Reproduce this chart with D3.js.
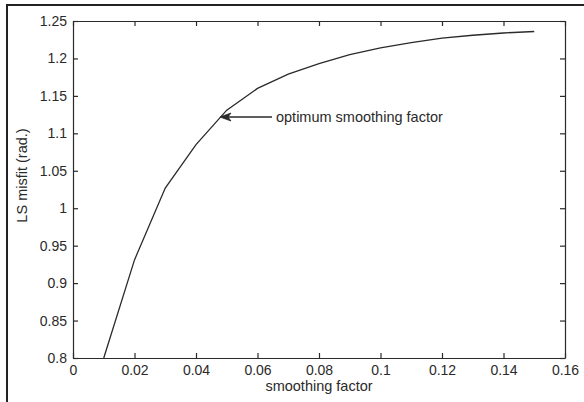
<!DOCTYPE html>
<html>
<head>
<meta charset="utf-8">
<script src="https://cdn.jsdelivr.net/npm/d3@7"></script>
<style>
  html, body { margin: 0; padding: 0; background: #fff; }
  svg { display: block; }
  text { font-family: "Liberation Sans", Arial, sans-serif; fill: #2a2a2a; }
</style>
</head>
<body>
<svg id="chart" width="584" height="402"></svg>
<script>
// Data
const smoothingFactor = [0.01, 0.02, 0.03, 0.04, 0.05, 0.06, 0.07, 0.08, 0.09, 0.10, 0.11, 0.12, 0.13, 0.14, 0.15];
const lsMisfit       = [0.800, 0.931, 1.027, 1.085, 1.131, 1.160, 1.179, 1.193, 1.205, 1.214, 1.221, 1.227, 1.231, 1.234, 1.236];
const xTicks = [0, 0.02, 0.04, 0.06, 0.08, 0.1, 0.12, 0.14, 0.16];
const yTicks = [0.8, 0.85, 0.9, 0.95, 1, 1.05, 1.1, 1.15, 1.2, 1.25];
const annotation = { label: "optimum smoothing factor", x: 0.0478, y: 1.1218 };
const xLabel = "smoothing factor";
const yLabel = "LS misfit (rad.)";

(function () {
const svg = d3.select("#chart");
const pLeft = 73, pRight = 565, pTop = 21, pBottom = 358;
const ink = "#2a2a2a";

// outer frame (only top and left visible)
svg.append("rect").attr("x", 7).attr("y", 5).attr("width", 600).attr("height", 420)
  .attr("fill", "none").attr("stroke", "#222").attr("stroke-width", 2);

const x = d3.scaleLinear().domain([0, 0.16]).range([pLeft, pRight]);
const y = d3.scaleLinear().domain([0.8, 1.25]).range([pBottom, pTop]);

const fmt = d => String(+d.toFixed(2));
const tickLen = 5;

const gx = svg.append("g").attr("transform", `translate(0,${pBottom})`)
  .call(d3.axisBottom(x).tickValues(xTicks).tickFormat(fmt).tickSizeInner(-tickLen).tickSizeOuter(0).tickPadding(7));
const gxt = svg.append("g").attr("transform", `translate(0,${pTop})`)
  .call(d3.axisTop(x).tickValues(xTicks).tickFormat("").tickSizeInner(-tickLen).tickSizeOuter(0));
const gy = svg.append("g").attr("transform", `translate(${pLeft},0)`)
  .call(d3.axisLeft(y).tickValues(yTicks).tickFormat(fmt).tickSizeInner(-tickLen).tickSizeOuter(0).tickPadding(6));
const gyr = svg.append("g").attr("transform", `translate(${pRight},0)`)
  .call(d3.axisRight(y).tickValues(yTicks).tickFormat("").tickSizeInner(-tickLen).tickSizeOuter(0));

[gx, gxt, gy, gyr].forEach(g => {
  g.select(".domain").attr("stroke", ink).attr("stroke-width", 1.2);
  g.selectAll(".tick line").attr("stroke", ink).attr("stroke-width", 1.2);
  g.selectAll(".tick text").attr("font-size", 14).attr("fill", ink)
    .attr("font-family", '"Liberation Sans", Arial, sans-serif');
});

const line = d3.line().x((d, i) => x(smoothingFactor[i])).y(d => y(d));
svg.append("path").datum(lsMisfit).attr("d", line)
  .attr("fill", "none").attr("stroke", ink).attr("stroke-width", 1.3);

const ax = x(annotation.x), ay = y(annotation.y);
svg.append("line").attr("x1", ax + 6).attr("y1", ay).attr("x2", ax + 52).attr("y2", ay)
  .attr("stroke", ink).attr("stroke-width", 1.3);
svg.append("path")
  .attr("d", `M${ax},${ay} L${ax + 11},${ay - 4} L${ax + 8},${ay} L${ax + 11},${ay + 4} Z`)
  .attr("fill", ink).attr("stroke", ink).attr("stroke-width", 0.8);
svg.append("text").attr("x", ax + 56).attr("y", ay + 5)
  .attr("font-size", 14.5).text(annotation.label);

svg.append("text").attr("x", (pLeft + pRight) / 2).attr("y", 391)
  .attr("text-anchor", "middle").attr("font-size", 14.5).text(xLabel);
svg.append("text").attr("transform", `translate(27,${(pTop + pBottom) / 2 - 14}) rotate(-90)`)
  .attr("text-anchor", "middle").attr("font-size", 14.5).text(yLabel);
})();
</script>
</body>
</html>
